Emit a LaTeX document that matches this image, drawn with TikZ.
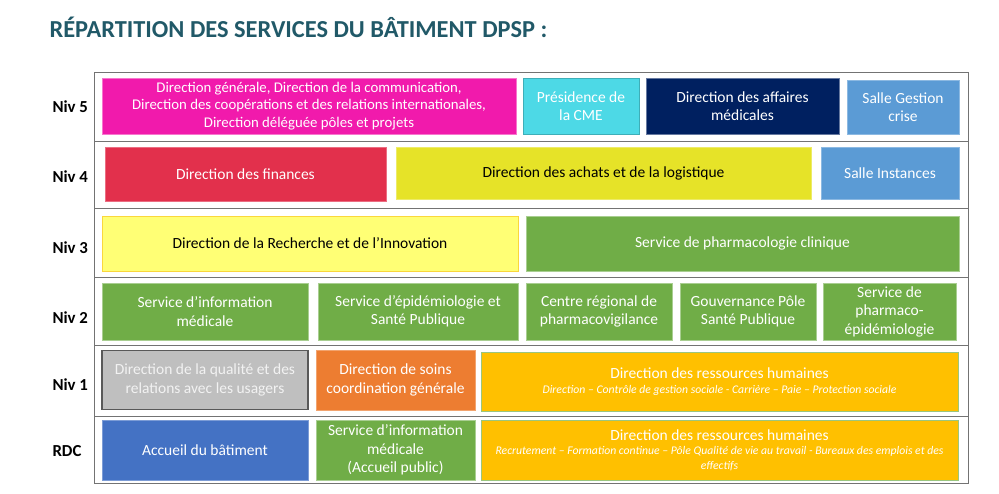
\documentclass[tikz,border=0pt]{standalone}
\usepackage{fontspec}
\setmainfont{Carlito}
\usepackage{tikz}
\definecolor{titre}{RGB}{33,89,104}
\definecolor{magenta5}{RGB}{241,26,172}
\definecolor{cyan5}{RGB}{77,217,230}
\definecolor{navy5}{RGB}{0,32,96}
\definecolor{salle}{RGB}{91,155,213}
\definecolor{rouge4}{RGB}{226,48,76}
\definecolor{jaune4}{RGB}{230,227,40}
\definecolor{jaune3}{RGB}{255,255,117}
\definecolor{vert}{RGB}{112,173,71}
\definecolor{gris1}{RGB}{191,191,191}
\definecolor{orange1}{RGB}{237,125,49}
\definecolor{ambre}{RGB}{255,192,0}
\definecolor{bleu0}{RGB}{68,114,196}
\tikzstyle{service}=[rectangle, inner sep=2pt, align=center, text=white,
  font=\fontsize{15.5}{18.5}\selectfont, line width=0.8pt]
\tikzstyle{niveau}=[anchor=west, font=\fontsize{16.8}{19}\selectfont\bfseries]
\providecommand{\service}{\node[service]}
\newcommand{\sous}[1]{{\fontsize{11.7}{15}\selectfont\itshape #1}}

\begin{document}
\begin{tikzpicture}[x=1pt, y=-1pt]
\useasboundingbox (0,0) rectangle (999,494);
\node (titre) at (46,27) [anchor=west, text=titre, font=\fontsize{24.4}{28}\selectfont\bfseries] {RÉPARTITION DES SERVICES DU BÂTIMENT DPSP :};
% le tableau
\draw[gray!90!black, line width=0.9pt] (94,72) rectangle (968,483);
\foreach \y in {141,208,277,345,416}
  \draw[gray!90!black, line width=0.9pt] (94,\y) -- (968,\y);
% niveaux
\node (n5) at (49,107) [niveau] {Niv 5};
\node (n4) at (49,177) [niveau] {Niv 4};
\node (n3) at (49,248) [niveau] {Niv 3};
\node (n2) at (49,318) [niveau] {Niv 2};
\node (n1) at (49,385) [niveau] {Niv 1};
\node (n0) at (49,451) [niveau] {RDC};
% Niv 5
\service (dg) at (309,106) [fill=magenta5, draw=magenta5!60!white, minimum width=414, minimum height=56, font=\fontsize{14.8}{17.7}\selectfont]
  {Direction générale, Direction de la communication,\\Direction des coopérations et des relations internationales,\\Direction déléguée pôles et projets};
\service (cme) at (581,106) [fill=cyan5, draw=cyan5!80!black, minimum width=116, minimum height=56] {Présidence de\\la CME};
\service (dam) at (742.5,106) [fill=navy5, draw=navy5!60!white, minimum width=193, minimum height=56] {Direction des affaires\\médicales};
\service (sgc) at (903,107) [fill=salle, draw=salle!70!white, minimum width=112, minimum height=54] {Salle Gestion\\crise};
% Niv 4
\service (fin) at (245.5,174) [fill=rouge4, draw=rouge4!70!white, minimum width=281, minimum height=54] {Direction des finances};
\service (achats) at (603.5,173) [fill=jaune4, draw=jaune4!70!white, text=black, minimum width=415, minimum height=52] {Direction des achats et de la logistique};
\service (inst) at (890,173) [fill=salle, draw=salle!70!white, minimum width=138, minimum height=52] {Salle Instances};
% Niv 3
\service (rech) at (310,243.5) [fill=jaune3, draw={rgb,255:red,250;green,215;blue,60}, text=black, minimum width=416, minimum height=55] {Direction de la Recherche et de l’Innovation};
\service (pcl) at (742.5,243.5) [fill=vert, draw=vert!60!white, minimum width=433, minimum height=55] {Service de pharmacologie clinique};
% Niv 2
\service (sim) at (205,311.5) [fill=vert, draw=vert!60!white, minimum width=206, minimum height=57] {Service d'information\\médicale};
\service (esp) at (418,311.5) [fill=vert, draw=vert!60!white, minimum width=200, minimum height=57] {Service d’épidémiologie et\\Santé Publique};
\service (crpv) at (599,311.5) [fill=vert, draw=vert!60!white, minimum width=146, minimum height=57] {Centre régional de\\pharmacovigilance};
\service (gps) at (748,311.5) [fill=vert, draw=vert!60!white, minimum width=136, minimum height=57] {Gouvernance Pôle\\Santé Publique};
\service (spe) at (889.5,311.5) [fill=vert, draw=vert!60!white, minimum width=133, minimum height=57] {Service de\\pharmaco-\\épidémiologie};
% Niv 1
\service (qual) at (205,380) [fill=gris1, draw=black!65, line width=1.1pt, text=white!95!black, minimum width=206, minimum height=59] {Direction de la qualité et des\\relations avec les usagers};
\service (soins) at (395.5,380) [fill=orange1, draw=orange1!70!white, minimum width=159, minimum height=60] {Direction de soins\\coordination générale};
\service (drh1) at (719.5,381.5) [fill=ambre, draw=vert!70!white, minimum width=477, minimum height=59]
  {Direction des ressources humaines\\[-3pt]\sous{Direction – Contrôle de gestion sociale - Carrière – Paie – Protection sociale}};
% RDC
\service (accueil) at (205,450) [fill=bleu0, draw=bleu0!70!white, minimum width=206, minimum height=60] {Accueil du bâtiment};
\service (simpub) at (395.5,450) [fill=vert, draw=vert!60!white, minimum width=159, minimum height=60] {Service d'information\\médicale\\(Accueil public)};
\service (drh0) at (719.5,450) [fill=ambre, draw=vert!70!white, minimum width=477, minimum height=60]
  {Direction des ressources humaines\\[-4pt]\sous{Recrutement – Formation continue – Pôle Qualité de vie au travail - Bureaux des emplois et des}\\[-4pt]\sous{effectifs}};
\end{tikzpicture}
\end{document}
